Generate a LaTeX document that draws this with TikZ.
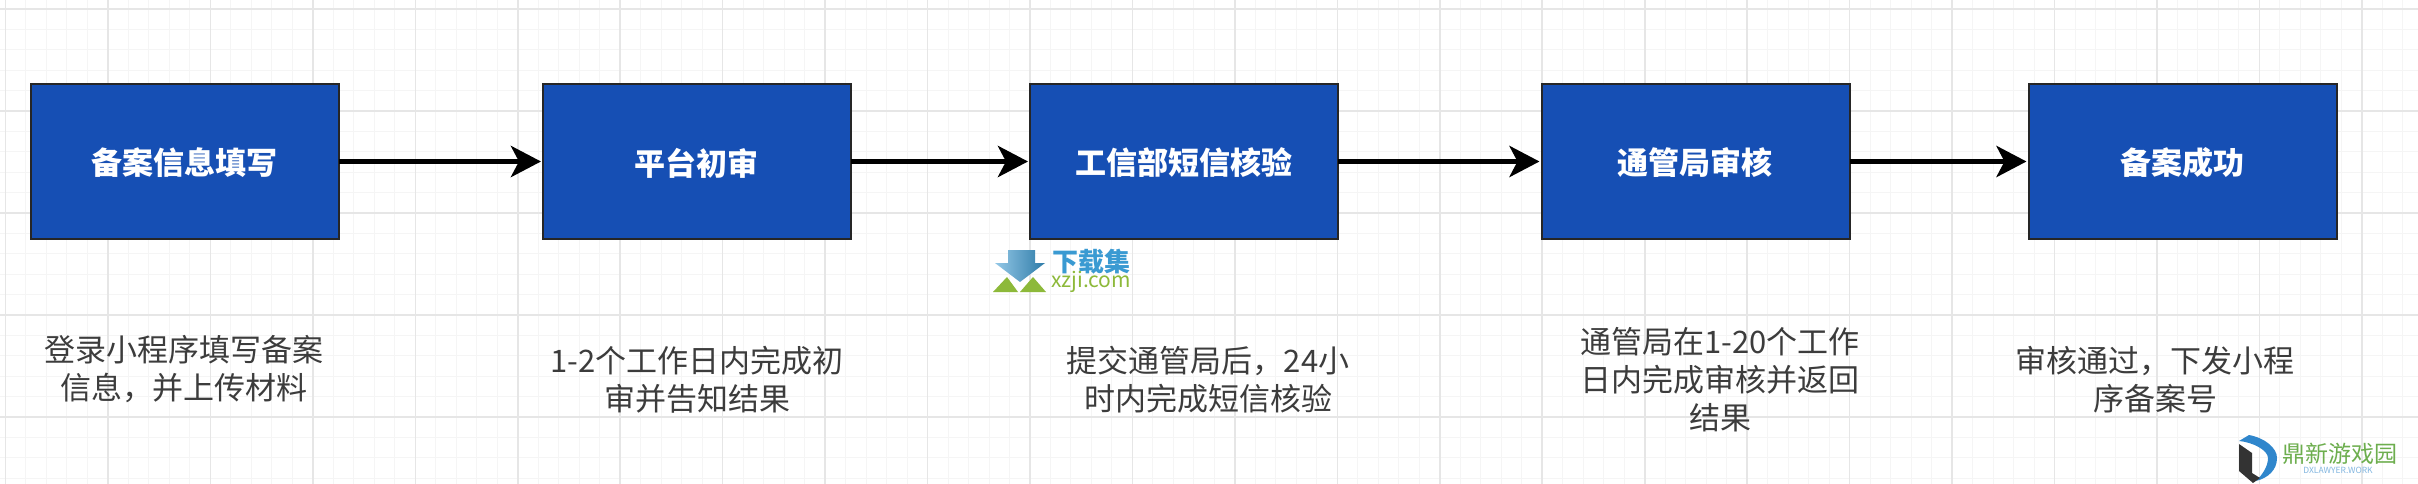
\documentclass[tikz,border=0pt]{standalone}
\usepackage{fontspec}
\setmainfont{Noto Sans CJK SC}
\usetikzlibrary{arrows.meta,shadings}
\definecolor{boxblue}{HTML}{164FB4}
\definecolor{majorgrid}{HTML}{E6E6E6}
\definecolor{minorgrid}{HTML}{F5F5F5}
\definecolor{captiongray}{HTML}{3C3C3C}
\definecolor{wmblue}{HTML}{3A9AD2}
\definecolor{wmgreen}{HTML}{8DB93A}
\definecolor{dxgreen}{HTML}{6DAE4E}
\definecolor{dxblue}{HTML}{2F86CC}
\definecolor{dxdark}{HTML}{333333}
\tikzset{
  x=1pt,y=-1pt,
  stagebox/.style={draw=black!85,line width=2pt,fill=boxblue,minimum width=308pt,minimum height=155pt,inner sep=0pt,outer sep=0pt},
  stagetext/.style={text=white,inner sep=0pt,font=\fontsize{31}{36}\selectfont\bfseries},
  caption/.style={text=captiongray,align=center,inner sep=0pt,font=\fontsize{31}{38}\selectfont},
  flow/.style={line width=5.5pt,black,-{Stealth[length=30pt,width=31pt,inset=8pt]},shorten >=2pt},
  minorline/.style={minorgrid,line width=1pt},
  majorline/.style={majorgrid,line width=1.6pt},
}
\begin{document}
\begin{tikzpicture}
\useasboundingbox (0,0) rectangle (2418,484);
\fill[white] (0,0) rectangle (2418,484);
% grid
\foreach \k in {0,...,118}{\draw[minorline] ({5.5+20.49*\k},0) -- ({5.5+20.49*\k},484);}
\foreach \k in {0,...,23}{\draw[minorline] (0,{9+20.4*\k}) -- (2418,{9+20.4*\k});}
\foreach \k in {0,...,23}{\draw[majorline] ({5.5+102.45*\k},0) -- ({5.5+102.45*\k},484);}
\foreach \k in {0,...,4}{\draw[majorline] (0,{9+102*\k}) -- (2418,{9+102*\k});}
% stages
\node[stagebox] (b1) at (185,161.5) {};
\node[stagebox] (b2) at (697,161.5) {};
\node[stagebox] (b3) at (1184,161.5) {};
\node[stagebox] (b4) at (1695.5,161.5) {};
\node[stagebox] (b5) at (2182.5,161.5) {};
\node[stagetext] (t1) at (184,163) {备案信息填写};
\node[stagetext] (t2) at (696,163) {平台初审};
\node[stagetext] (t3) at (1184,163) {工信部短信核验};
\node[stagetext] (t4) at (1695,163) {通管局审核};
\node[stagetext] (t5) at (2182,163) {备案成功};
\draw[flow] (b1) -- (b2);
\draw[flow] (b2) -- (b3);
\draw[flow] (b3) -- (b4);
\draw[flow] (b4) -- (b5);
% captions
\node[caption] (c1) at (184,369) {登录小程序填写备案\\信息，并上传材料};
\node[caption] (c2) at (697,380) {1-2个工作日内完成初\\审并告知结果};
\node[caption] (c3) at (1208,380) {提交通管局后，24小\\时内完成短信核验};
\node[caption] (c4) at (1720,380) {通管局在1-20个工作\\日内完成审核并返回\\结果};
\node[caption] (c5) at (2155,380) {审核通过，下发小程\\序备案号};
% watermark 1
\shade[left color=wmblue!55,right color=wmblue!80!black] (1008,250) -- (1035,250) -- (1035,263) -- (1045,263) -- (1020,282) -- (995,263) -- (1008,263) -- cycle;
\fill[wmgreen] (993,292) -- (1007,277) -- (1018,292) -- cycle;
\fill[wmgreen] (1020,292) -- (1033,277) -- (1046,292) -- cycle;
\node[text=wmblue,inner sep=0pt,font=\fontsize{26}{26}\selectfont\bfseries] (wm1) at (1091,262) {下载集};
\node[text=wmgreen,inner sep=0pt,font=\fontsize{21}{21}\selectfont] (wm2) at (1091,282) {xzji.com};
% watermark 2
\fill[dxblue] (2239,441) -- (2249,435) .. controls (2265,438) and (2277,448) .. (2277,458) .. controls (2277,470) and (2268,478) .. (2256,481) .. controls (2263,474) and (2268,466) .. (2268,458) .. controls (2268,450) and (2252,442) .. (2239,441) -- cycle;
\fill[dxdark] (2239,444) -- (2252,453) -- (2252,473) -- (2260,478) -- (2253,483) -- (2239,471) -- cycle;
\node[text=dxgreen,inner sep=0pt,font=\fontsize{23}{23}\selectfont] (wm3) at (2340,454) {鼎新游戏园};
\node[text=dxblue!60,inner sep=0pt,font=\fontsize{8.5}{9}\selectfont] (wm4) at (2338,470) {DXLAWYER.WORK};
\end{tikzpicture}
\end{document}
